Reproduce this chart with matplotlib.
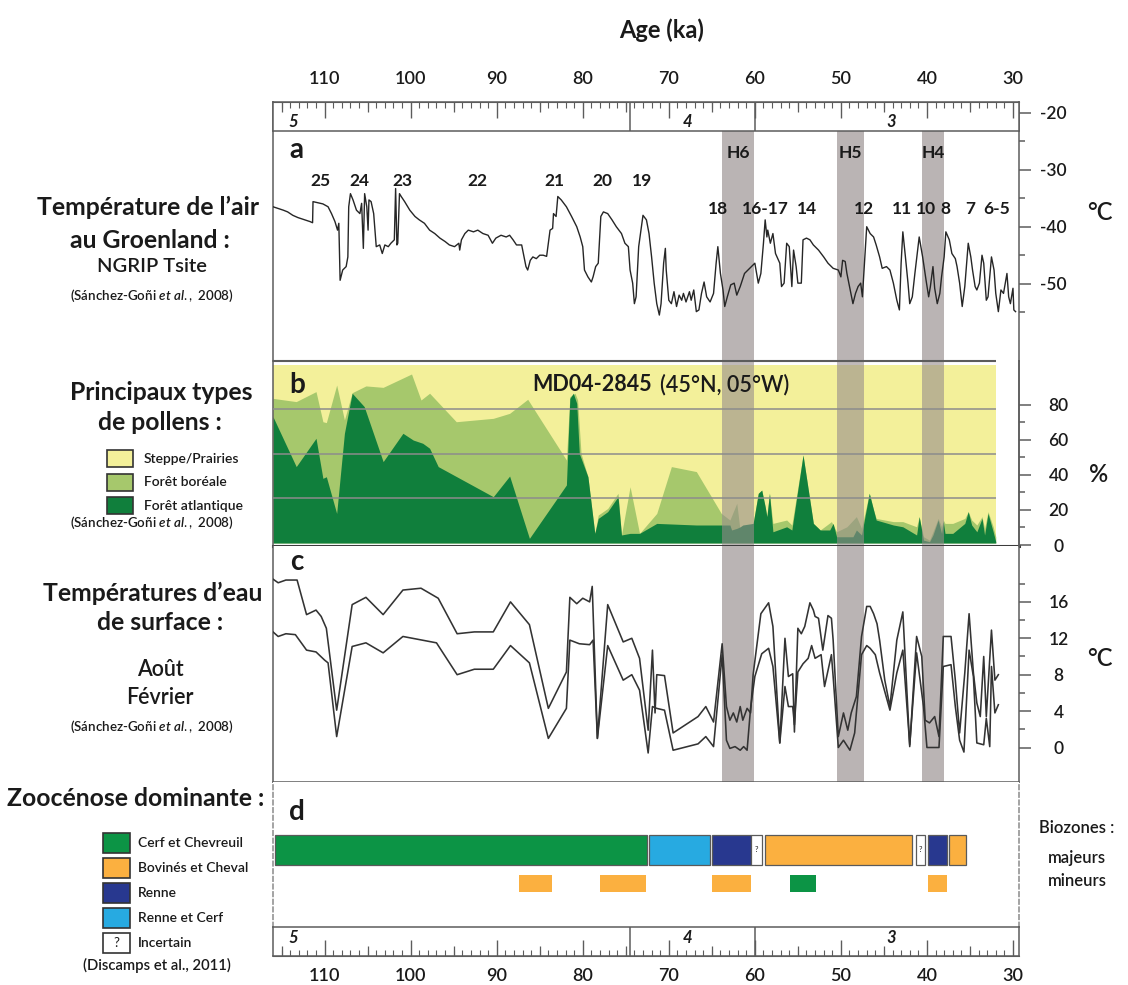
import matplotlib.pyplot as plt
from matplotlib.patches import Rectangle

plt.rcParams['font.family'] = ['Lato', 'DejaVu Sans']
plt.rcParams['mathtext.fontset'] = 'custom'
plt.rcParams['mathtext.rm'] = 'Lato'
plt.rcParams['mathtext.it'] = 'Lato:italic:semibold'
plt.rcParams['mathtext.bf'] = 'Lato:bold'
plt.rcParams['axes.unicode_minus'] = False

# ---------------- data ----------------
# (a) NGRIP Tsite (°C) vs age (ka)
ngrip_age = [116.0, 115.4, 114.8, 114.3, 113.7, 113.1, 112.5, 111.7, 111.4, 111.35, 110.8, 110.2, 109.6, 109.2,
             108.8, 108.5, 108.35, 108.3, 108.2, 107.9, 107.5, 107.3, 107.2, 107.0, 106.7, 106.3, 105.9, 105.7,
             105.5, 105.35, 105.1, 104.95, 104.85, 104.6, 104.3, 104.0, 103.6, 103.3, 103.0, 102.6, 102.3, 101.9,
             101.75, 101.6, 101.5, 101.3, 101.1, 100.7, 100.1, 99.5, 99.0, 98.4, 97.8, 97.2, 96.6, 96.0, 95.5,
             94.9, 94.4, 94.3, 94.1, 93.7, 93.3, 92.7, 92.2, 91.6, 91.0, 90.5, 90.1, 89.5, 88.9, 88.5, 88.1, 87.7,
             87.1, 86.9, 86.6, 86.4, 86.1, 85.8, 85.4, 85.0, 84.6, 84.2, 83.8, 83.5, 83.4, 83.1, 82.9, 82.5, 81.9,
             81.3, 80.7, 80.3, 80.0, 79.8, 79.4, 79.0, 78.8, 78.5, 78.2, 77.9, 77.6, 77.1, 76.6, 76.1, 75.5, 75.1,
             74.7, 74.5, 74.2, 74.0, 73.8, 73.5, 73.0, 72.6, 72.3, 72.0, 71.7, 71.4, 71.1, 70.9, 70.6, 70.4, 70.3,
             70.0, 69.7, 69.4, 69.1, 68.8, 68.5, 68.3, 68.0, 67.6, 67.4, 67.1, 66.8, 66.5, 66.2, 65.9, 65.6, 65.2,
             64.8, 64.5, 64.3, 64.0, 63.7, 63.5, 63.2, 62.8, 62.4, 62.1, 61.7, 61.2, 60.8, 60.4, 60.0, 59.6, 59.3,
             59.0, 58.8, 58.6, 58.5, 58.2, 57.9, 57.6, 57.1, 56.9, 56.6, 56.3, 56.0, 55.7, 55.5, 55.2, 55.0, 54.6,
             54.4, 54.0, 53.6, 53.2, 52.6, 52.0, 51.5, 50.9, 50.3, 50.0, 49.8, 49.5, 49.3, 49.0, 48.6, 48.3, 48.0,
             47.7, 47.5, 47.0, 46.6, 46.2, 45.9, 45.5, 45.2, 44.7, 44.3, 43.9, 43.5, 43.2, 43.0, 42.8, 42.5, 42.2,
             42.0, 41.7, 41.4, 40.9, 40.5, 40.1, 39.8, 39.6, 39.3, 39.1, 38.8, 38.5, 38.3, 38.0, 37.8, 37.4, 37.1,
             36.7, 36.5, 36.2, 35.9, 35.6, 35.2, 34.9, 34.7, 34.4, 34.2, 33.9, 33.6, 33.4, 33.1, 32.9, 32.5, 32.2,
             32.0, 31.7, 31.4, 31.1, 30.7, 30.5, 30.3, 30.0, 29.9, 29.7]
ngrip_temp = [-36.5, -36.8, -37.1, -37.4, -38.0, -38.4, -38.7, -39.1, -39.3, -35.6, -35.8, -36.0, -36.5, -37.7,
              -39.1, -40.6, -39.4, -42.9, -49.4, -47.6, -47.0, -45.3, -36.5, -34.2, -35.3, -37.1, -37.7, -35.9,
              -43.8, -34.2, -36.5, -40.6, -35.3, -35.6, -37.7, -43.5, -43.2, -44.7, -43.2, -43.5, -42.9, -42.3,
              -33.3, -43.2, -42.9, -34.2, -34.7, -35.6, -37.1, -38.2, -38.8, -39.4, -40.6, -41.2, -42.0, -42.6,
              -43.2, -43.5, -42.9, -44.1, -42.3, -41.2, -40.6, -40.9, -40.6, -41.2, -41.5, -42.9, -42.0, -41.5,
              -41.8, -41.5, -42.3, -43.2, -43.2, -44.7, -47.0, -47.6, -45.9, -45.3, -45.6, -45.0, -45.0, -45.2,
              -40.6, -40.3, -37.7, -38.2, -34.7, -35.3, -36.5, -38.2, -40.0, -41.8, -43.5, -47.6, -48.8, -49.7,
              -48.8, -47.0, -46.4, -38.2, -37.4, -37.7, -38.8, -40.0, -41.2, -42.9, -43.5, -47.6, -49.9, -53.5,
              -52.3, -43.5, -38.0, -38.8, -41.2, -45.3, -49.9, -53.5, -55.5, -53.5, -46.4, -43.8, -47.6, -52.9,
              -53.5, -51.4, -54.0, -52.0, -52.9, -51.7, -53.2, -51.4, -52.9, -51.1, -54.9, -54.6, -51.7, -49.7,
              -52.3, -53.2, -51.7, -46.4, -43.5, -48.2, -51.1, -54.0, -52.3, -50.2, -49.9, -52.0, -50.5, -48.2,
              -47.6, -47.0, -46.4, -49.9, -48.2, -42.9, -38.8, -41.8, -40.6, -42.9, -41.2, -44.7, -46.4, -50.5,
              -49.9, -42.9, -43.5, -50.5, -44.1, -47.0, -49.9, -49.9, -42.3, -42.0, -42.3, -43.2, -44.1, -45.3,
              -46.4, -47.3, -47.6, -48.8, -45.9, -46.1, -48.2, -50.5, -53.5, -51.7, -50.5, -49.9, -52.3, -40.0,
              -41.2, -41.8, -43.2, -45.3, -47.3, -47.0, -47.6, -49.9, -52.9, -54.6, -46.4, -40.9, -45.3, -49.9,
              -53.5, -52.3, -48.2, -41.8, -45.3, -49.4, -52.3, -50.5, -47.0, -50.8, -53.5, -51.7, -48.8, -45.3,
              -40.9, -42.3, -44.7, -45.6, -47.0, -49.9, -54.0, -50.5, -42.9, -45.3, -47.6, -50.5, -51.1, -49.9,
              -45.0, -46.4, -52.9, -52.3, -45.3, -47.6, -51.7, -54.9, -51.1, -51.7, -48.2, -52.3, -53.5, -50.8,
              -54.6, -54.9]

is_labels_hi = ['25', '24', '23', '22', '21', '20', '19']
is_ages_hi = [110.5, 106.0, 100.9, 92.3, 83.3, 77.7, 73.1]
is_labels_lo = ['18', '16-17', '14', '12', '11', '10', '8', '7', '6-5']
is_ages_lo = [64.3, 58.8, 54.0, 47.3, 42.9, 40.1, 37.8, 35.0, 31.9]

# Heinrich events
h_names = ['H6', 'H5', 'H4']
h_start = [63.8, 50.5, 40.6]
h_end = [60.1, 47.3, 38.0]

# (b) pollen MD04-2845 (%): cumulative boreal top and atlantic forest
boreal_age = [116.0, 113.3, 111.0, 110.2, 109.8, 108.6, 107.7, 106.8, 105.2, 103.2, 99.9, 98.8, 97.8, 94.7, 90.4,
              88.5, 86.4, 81.9, 81.5, 80.9, 80.6, 80.2, 79.4, 78.6, 78.2, 77.1, 75.9, 75.5, 74.5, 73.4, 71.4, 69.7,
              66.8, 63.9, 62.9, 62.1, 61.7, 60.2, 59.6, 59.2, 58.8, 58.6, 58.3, 57.9, 56.3, 55.7, 54.4, 53.2, 52.4,
              51.1, 50.5, 49.3, 48.2, 47.6, 46.7, 46.2, 45.9, 43.9, 42.8, 41.2, 40.9, 40.4, 39.7, 39.3, 38.7, 38.3,
              38.1, 37.9, 37.0, 35.6, 35.2, 34.8, 34.2, 33.6, 33.3, 32.9, 32.3, 32.0]
boreal_top = [81.2, 79.4, 85.0, 68.1, 67.6, 88.7, 69.1, 84.4, 88.2, 87.4, 94.9, 80.3, 84.1, 68.1, 70.0, 72.8, 80.7,
              46.6, 82.2, 84.1, 80.3, 50.3, 37.2, 5.4, 15.7, 19.4, 27.9, 4.5, 31.6, 5.4, 16.6, 42.9, 40.1, 16.6,
              12.9, 22.3, 6.3, 11.0, 27.9, 29.7, 20.4, 14.8, 27.9, 11.0, 12.9, 10.1, 49.4, 11.0, 7.3, 12.0, 6.3,
              9.1, 14.8, 8.2, 27.9, 18.5, 13.8, 12.0, 12.0, 9.1, 14.8, 3.5, 1.6, 6.3, 13.8, 9.1, 12.9, 11.0, 11.0,
              13.8, 17.6, 12.9, 10.1, 14.8, 8.2, 17.6, 9.1, 3.5]
atl_age = [116.0, 113.3, 111.0, 110.2, 109.8, 108.6, 107.7, 106.8, 105.4, 103.2, 100.9, 99.7, 98.6, 97.8, 96.8,
           94.3, 90.4, 88.5, 86.2, 81.9, 81.5, 81.1, 80.7, 80.4, 79.4, 78.6, 78.2, 77.1, 75.9, 75.5, 74.5, 73.4,
           71.4, 66.8, 62.9, 62.7, 62.1, 61.7, 61.4, 60.2, 59.6, 59.2, 58.8, 58.6, 58.3, 57.9, 56.3, 55.7, 54.4,
           53.2, 52.4, 51.3, 50.9, 50.5, 48.6, 48.2, 47.6, 46.7, 46.2, 45.9, 43.9, 42.8, 41.2, 40.9, 40.4, 39.7,
           39.3, 38.7, 38.3, 38.1, 37.9, 37.0, 35.6, 35.2, 34.8, 34.2, 33.6, 33.3, 32.9, 32.3, 32.0]
atl_val = [70.9, 42.9, 58.8, 36.3, 37.2, 16.6, 61.6, 84.1, 76.6, 45.7, 61.6, 57.8, 56.0, 53.2, 42.9, 36.3, 26.0,
           37.6, 2.6, 32.6, 81.2, 84.1, 78.4, 50.3, 37.2, 5.4, 13.8, 17.6, 26.0, 4.5, 5.4, 5.4, 11.0, 10.1, 10.1,
           7.3, 8.2, 9.1, 10.1, 11.0, 27.9, 29.7, 20.4, 14.8, 27.9, 6.3, 9.1, 7.3, 49.4, 11.0, 7.3, 7.3, 11.0, 3.5,
           3.5, 7.3, 4.5, 27.9, 18.5, 12.9, 10.1, 9.1, 4.5, 14.8, 1.6, 0.7, 4.5, 12.9, 5.4, 12.0, 5.4, 5.4, 11.0,
           17.6, 10.1, 6.3, 13.8, 4.5, 16.6, 6.3, 0.7]

# (c) sea surface temperatures (°C)
aug_age = [116.0, 115.4, 114.5, 113.2, 112.1, 111.0, 110.4, 109.8, 108.6, 106.8, 105.2, 103.2, 100.9, 98.8, 96.8,
           94.6, 92.6, 90.4, 88.4, 86.2, 84.0, 81.9, 81.5, 80.7, 80.0, 79.2, 78.9, 78.3, 77.1, 75.3, 74.3, 73.4,
           72.4, 71.9, 71.6, 71.4, 70.5, 69.5, 66.6, 65.7, 64.8, 63.8, 63.3, 62.9, 62.5, 62.1, 61.7, 61.4, 60.9,
           60.5, 60.2, 59.3, 58.4, 57.9, 57.1, 56.5, 56.1, 55.6, 55.4, 55.0, 54.6, 54.2, 53.6, 53.2, 53.0, 52.6,
           52.1, 51.5, 51.1, 50.9, 50.3, 49.7, 49.2, 48.8, 48.2, 47.6, 47.0, 46.6, 46.2, 45.8, 45.5, 44.9, 44.3,
           43.5, 42.8, 42.0, 41.2, 40.6, 40.2, 39.7, 39.1, 38.6, 38.1, 37.2, 36.7, 36.2, 35.6, 35.1, 34.6, 34.2,
           33.8, 33.4, 33.1, 32.5, 32.1, 31.7]
aug_sst = [18.5, 18.1, 18.4, 18.4, 14.6, 15.1, 14.4, 13.1, 4.1, 15.7, 16.5, 14.6, 17.3, 17.5, 16.4, 12.5, 12.7,
           12.7, 16.0, 13.5, 4.3, 8.3, 16.5, 15.8, 16.4, 16.0, 17.7, 1.0, 15.7, 11.6, 12.0, 9.8, 1.9, 10.7, 3.8,
           8.0, 7.9, 1.6, 3.4, 4.5, 2.8, 11.4, 4.5, 3.0, 3.8, 2.8, 4.5, 3.0, 4.3, 3.8, 8.0, 14.7, 15.9, 13.3, 0.5,
           12.0, 7.8, 8.1, 1.7, 13.1, 12.5, 13.3, 15.9, 15.1, 14.4, 14.2, 10.7, 14.5, 14.2, 11.8, 1.2, 3.8, 1.9,
           3.8, 5.6, 12.2, 15.5, 15.5, 14.7, 13.6, 11.8, 7.4, 4.5, 11.8, 14.9, 0.1, 12.2, 10.0, 3.0, 2.7, 3.4,
           1.2, 12.2, 12.2, 7.4, 1.6, 8.2, 14.7, 8.2, 4.9, 3.4, 10.0, 3.4, 12.9, 7.4, 8.0]
feb_age = [116.0, 115.4, 114.5, 113.4, 112.1, 111.0, 110.0, 109.6, 108.6, 106.8, 105.2, 103.2, 100.9, 97.0, 94.6,
           92.6, 90.4, 88.4, 86.2, 84.0, 81.9, 81.5, 80.4, 79.2, 78.8, 78.3, 77.1, 75.3, 74.3, 73.4, 72.4, 71.9,
           71.4, 70.5, 69.5, 66.6, 65.7, 64.8, 63.8, 63.3, 62.9, 62.3, 61.7, 61.3, 60.9, 60.5, 60.0, 59.2, 58.4,
           57.9, 57.1, 56.5, 56.1, 55.6, 55.4, 55.0, 54.4, 53.8, 53.4, 53.0, 52.3, 51.9, 51.1, 50.9, 50.3, 49.7,
           48.95, 48.4, 48.2, 47.6, 47.0, 46.6, 46.0, 45.5, 44.3, 43.5, 42.8, 42.0, 41.2, 40.4, 40.0, 39.1, 38.6,
           38.1, 37.2, 36.7, 36.2, 35.7, 35.1, 34.6, 34.2, 33.4, 33.1, 32.7, 32.5, 32.1, 31.7]
feb_sst = [12.7, 12.2, 12.5, 12.4, 10.7, 10.5, 9.6, 9.3, 1.2, 11.1, 11.5, 10.4, 12.2, 11.5, 8.0, 8.6, 8.6, 11.2,
           9.3, 1.0, 4.3, 11.8, 11.4, 11.3, 11.8, 1.0, 11.2, 7.4, 8.0, 6.3, -0.6, 4.5, 4.3, 4.1, -0.3, 0.4, 1.2,
           0.1, 10.2, 0.8, -0.1, 0.1, -0.3, 0.1, -0.3, 4.3, 7.8, 10.3, 10.9, 8.9, 0.5, 6.7, 4.5, 4.5, 2.5, 8.3,
           9.2, 9.8, 11.2, 9.8, 10.2, 6.7, 10.2, 7.8, 0.0, 0.8, -0.3, 1.6, 3.8, 10.2, 11.2, 10.9, 10.2, 8.2, 4.1,
           8.2, 10.7, 0.3, 10.4, 4.5, 0.0, 0.0, 0.0, 8.9, 9.1, 4.5, 0.8, -0.5, 10.7, 7.8, 0.5, 0.3, 3.2, 0.1, 8.9,
           3.8, 4.7]

# (d) dominant zoocenosis (Discamps et al., 2011)
major_start = [115.8, 72.3, 65.0, 60.4, 58.8, 41.3, 39.9, 37.4]
major_end = [72.5, 65.2, 60.5, 59.2, 41.7, 40.2, 37.7, 35.5]
major_kind = ['cerf', 'renne_cerf', 'renne', 'incertain', 'bovines', 'incertain', 'renne', 'bovines']
minor_start = [87.4, 78.0, 65.0, 55.9, 39.9]
minor_end = [83.6, 72.6, 60.5, 52.9, 37.7]
minor_kind = ['bovines', 'bovines', 'bovines', 'cerf', 'bovines']
zoo_kinds = ['cerf', 'bovines', 'renne', 'renne_cerf', 'incertain']
zoo_labels = ['Cerf et Chevreuil', 'Bovinés et Cheval', 'Renne', 'Renne et Cerf', 'Incertain']

# MIS stages
stage_bounds = [74.5, 60.0]
stage_names = ['5', '4', '3']
stage_ages = [113.6, 67.8, 44.1]

pollen_labels = ['Steppe/Prairies', 'Forêt boréale', 'Forêt atlantique']

# ---------------- style ----------------
YELLOW = '#f3f09a'
LGREEN = '#a6c86c'
DGREEN = '#107f3c'
ZOO_COLORS = {'cerf': '#0c9445', 'bovines': '#fbb040', 'renne': '#28388f',
              'renne_cerf': '#27aae1', 'incertain': 'white'}
SPINE = '#5c5c5c'
TXT = '#1a1a1a'
BAND = '#968c8c'
XL = (116.0, 29.3)
SEMI = 'semibold'

W, H = 1128, 985
def fx(x): return x / W
def fy(y): return 1 - y / H
def box(x0, y0, x1, y1): return [x0 / W, 1 - y1 / H, (x1 - x0) / W, (y1 - y0) / H]

fig = plt.figure(figsize=(W / 100, H / 100), dpi=100)

ax_a = fig.add_axes(box(273, 102, 1019, 361))
ax_b = fig.add_axes(box(273, 361, 1019, 546))
ax_c = fig.add_axes(box(273, 546, 1019, 782))
ax_d = fig.add_axes(box(273, 782, 1019, 927))
ax_top = fig.add_axes(box(273, 102, 1019, 131))
ax_bot = fig.add_axes(box(273, 927, 1019, 956))

for ax in (ax_a, ax_b, ax_c, ax_d, ax_top, ax_bot):
    ax.set_xlim(XL)
    for sp in ax.spines.values():
        sp.set_color(SPINE)
        sp.set_linewidth(1.1)


def right_ticks(ax, major, minor, pad):
    ax.yaxis.tick_right()
    ax.set_yticks(major)
    ax.set_yticks(minor, minor=True)
    ax.tick_params(axis='y', which='both', direction='out', color=SPINE, width=1.1,
                   labelsize=12.5, labelcolor=TXT)
    ax.tick_params(axis='y', which='major', length=8.5, pad=pad)
    ax.tick_params(axis='y', which='minor', length=4.5)
    for t in ax.get_yticklabels():
        t.set_horizontalalignment('center')
        t.set_fontweight(SEMI)


# ---- panel a ----
ax_a.set_ylim(-63.56, -18.12)
ax_a.spines['top'].set_visible(False)
ax_a.spines['bottom'].set_visible(False)
ax_a.set_xticks([])
for s, e in zip(h_start, h_end):
    ax_a.axvspan(s, e, color=BAND, alpha=0.65, lw=0, zorder=1)
ax_a.plot(ngrip_age, ngrip_temp, color='#262626', lw=1.0, zorder=3)
right_ticks(ax_a, [-20, -30, -40, -50], [-25, -35, -45, -55], 16.5)
for n, s, e in zip(h_names, h_start, h_end):
    ax_a.text((s + e) / 2, -27.1, n, ha='center', va='center', fontsize=12.5, weight='bold', color=TXT)
for lab, age in zip(is_labels_hi, is_ages_hi):
    ax_a.text(age, -32.0, lab, ha='center', va='center', fontsize=12.5, weight='bold', color=TXT)
for lab, age in zip(is_labels_lo, is_ages_lo):
    ax_a.text(age, -36.9, lab, ha='center', va='center', fontsize=12.5, weight='bold', color=TXT)
ax_a.text(0.032, 0.815, 'a', transform=ax_a.transAxes, fontsize=20, weight='bold',
          ha='center', va='center', color=TXT)

# ---- panel b ----
ax_b.set_ylim(-1.69, 102.2)
ax_b.set_xticks([])
ax_b.set_yticks([])
ax_b.spines['top'].set_visible(False)
ax_b.spines['bottom'].set_color('#3c3c3c')
ax_b.spines['bottom'].set_linewidth(2.2)
ax_b.fill_between([boreal_age[0], boreal_age[-1]], 0, 100, color=YELLOW, lw=0, zorder=1)
ax_b.fill_between(boreal_age, 0, boreal_top, color=LGREEN, lw=0, zorder=2)
ax_b.fill_between(atl_age, 0, atl_val, color=DGREEN, lw=0, zorder=2.2)
for s, e in zip(h_start, h_end):
    ax_b.axvspan(s, e, color=BAND, alpha=0.6, lw=0, zorder=2.5)
ax_b.hlines([25, 50, 75], boreal_age[0], boreal_age[-1], color='#8c8c8c', lw=1.1, zorder=3)
ax_b.hlines(ax_b.get_ylim()[1], boreal_age[0], boreal_age[-1], color=SPINE, lw=1.5,
            zorder=4, clip_on=False)
ax_b.text(72.0, 88.8, 'MD04-2845', ha='right', va='center', fontsize=15.5, weight='bold', color=TXT, zorder=5)
ax_b.text(71.05, 88.8, '(45°N, 05°W)', ha='left', va='center', fontsize=15.5, weight=SEMI,
          color=TXT, zorder=5)
ax_b.text(0.032, 0.87, 'b', transform=ax_b.transAxes, fontsize=20, weight='bold',
          ha='center', va='center', color=TXT, zorder=5)
ax_b2 = ax_b.twinx()
ax_b2.set_ylim(-0.57, 105.1)
for s in ('left', 'top', 'bottom'):
    ax_b2.spines[s].set_visible(False)
ax_b2.spines['right'].set_color(SPINE)
ax_b2.spines['right'].set_linewidth(1.1)
right_ticks(ax_b2, [0, 20, 40, 60, 80], [10, 30, 50, 70], 20)

# ---- panel c ----
ax_c.set_ylim(-3.79, 22.14)
ax_c.spines['top'].set_visible(False)
ax_c.set_xticks([])
for s, e in zip(h_start, h_end):
    ax_c.axvspan(s, e, color=BAND, alpha=0.65, lw=0, zorder=1)
ax_c.plot(aug_age, aug_sst, color='#333333', lw=1.15, zorder=3)
ax_c.plot(feb_age, feb_sst, color='#333333', lw=1.15, zorder=3)
right_ticks(ax_c, [0, 4, 8, 12, 16], [2, 6, 10, 14, 18], 20)
ax_c.text(0.032, 0.932, 'c', transform=ax_c.transAxes, fontsize=20, weight='bold',
          ha='center', va='center', color=TXT)

# ---- panel d ----
ax_d.set_ylim(145, 0)
ax_d.set_xticks([])
ax_d.set_yticks([])
ax_d.spines['top'].set_visible(False)
ax_d.spines['bottom'].set_visible(False)
for s in ('left', 'right'):
    ax_d.spines[s].set_linestyle((0, (3, 2)))
    ax_d.spines[s].set_color('#8a8a8a')
for s, e, k in zip(major_start, major_end, major_kind):
    ax_d.barh(68, s - e, left=e, height=30, color=ZOO_COLORS[k], edgecolor='#5a5a5a', lw=0.9)
    if k == 'incertain':
        ax_d.text((s + e) / 2, 68, '?', ha='center', va='center', fontsize=5.5, color=TXT)
for s, e, k in zip(minor_start, minor_end, minor_kind):
    ax_d.barh(101.5, s - e, left=e, height=17, color=ZOO_COLORS[k], edgecolor='none')
ax_d.text(0.032, 0.79, 'd', transform=ax_d.transAxes, fontsize=20, weight='bold',
          ha='center', va='center', color=TXT)

# ---- stage bands (top & bottom age scales) ----
for ax, side in ((ax_top, 'top'), (ax_bot, 'bottom')):
    ax.set_ylim(0, 1)
    ax.set_yticks([])
    ax.set_facecolor('white')
    ax.set_xticks(range(30, 111, 10))
    ax.set_xticks(range(30, 116), minor=True)
    if side == 'top':
        ax.xaxis.tick_top()
        pad, ylab = 10.8, 0.32
    else:
        pad, ylab = 8.6, 0.62
    ax.tick_params(axis='x', which='major', direction='in', length=11.5, width=1.0, color=SPINE,
                   labelsize=13, labelcolor=TXT, pad=pad)
    ax.tick_params(axis='x', which='minor', direction='in', length=4.3, width=0.8, color=SPINE)
    for t in ax.get_xticklabels():
        t.set_fontweight(SEMI)
    sec = ax.secondary_xaxis(side)
    sec.set_xticks(range(35, 116, 10))
    sec.tick_params(axis='x', direction='in', length=7, width=0.9, color=SPINE,
                    labeltop=False, labelbottom=False)
    sec.spines[side].set_color(SPINE)
    for b in stage_bounds:
        ax.axvline(b, color=SPINE, lw=1.1)
    for n, age in zip(stage_names, stage_ages):
        ax.text(age, ylab, n, ha='center', va='center', fontsize=12, weight='bold',
                style='italic', color=TXT)
ax_top.set_zorder(ax_a.get_zorder() + 1)

# ---- figure texts ----
def ftext(x, y, s, size, weight='normal', **kw):
    fig.text(fx(x), fy(y), s, ha='center', va='center', fontsize=size, weight=weight, color=TXT, **kw)

cite_sg = r'(Sánchez-Goñi $\mathit{et\ al.,\ }$2008)'
TT = 17.8
ftext(662, 30, 'Age (ka)', 17, 'bold')
ftext(148, 207, 'Température de l’air', TT, 'bold')
ftext(150, 240, 'au Groenland :', TT, 'bold')
ftext(152, 267, 'NGRIP Tsite', 14.5, SEMI)
ftext(152, 296, cite_sg, 9.6, SEMI)
ftext(161, 392, 'Principaux types', TT, 'bold')
ftext(160, 423, 'de pollens :', TT, 'bold')
ftext(152, 523, cite_sg, 9.6, SEMI)
ftext(153, 593, 'Températures d’eau', TT, 'bold')
ftext(160, 622, 'de surface :', TT, 'bold')
ftext(160, 670, 'Août', 15.5, SEMI)
ftext(160, 698, 'Février', 15.5, SEMI)
ftext(152, 727, cite_sg, 9.6, SEMI)
ftext(136, 798, 'Zoocénose dominante :', TT, 'bold')
ftext(157, 965, '(Discamps et al., 2011)', 10.7, SEMI)
ftext(1100, 212, '°C', 17, SEMI)
ftext(1099, 475, '%', 17, SEMI)
ftext(1100, 658, '°C', 17, SEMI)
ftext(1077, 828, 'Biozones :', 12, SEMI)
ftext(1077, 858, 'majeurs', 12, SEMI)
ftext(1077, 881, 'mineurs', 12, SEMI)

# legends
for i, (lab, col) in enumerate(zip(pollen_labels, [YELLOW, LGREEN, DGREEN])):
    yc = 458.5 + i * 23.5
    fig.add_artist(Rectangle((fx(107), fy(yc + 8.5)), 26 / W, 17 / H, transform=fig.transFigure,
                             facecolor=col, edgecolor='#333333', lw=1.2))
    fig.text(fx(144), fy(yc), lab, ha='left', va='center', fontsize=10, weight=SEMI, color=TXT)

for i, (k, lab) in enumerate(zip(zoo_kinds, zoo_labels)):
    yc = 843 + i * 25
    fig.add_artist(Rectangle((fx(103), fy(yc + 10)), 27 / W, 20 / H, transform=fig.transFigure,
                             facecolor=ZOO_COLORS[k], edgecolor='#333333', lw=1.2))
    if k == 'incertain':
        fig.text(fx(116.5), fy(yc), '?', ha='center', va='center', fontsize=9.5, color=TXT)
    fig.text(fx(138), fy(yc), lab, ha='left', va='center', fontsize=10, weight=SEMI, color=TXT)

fig.savefig('out.png', dpi=100)
